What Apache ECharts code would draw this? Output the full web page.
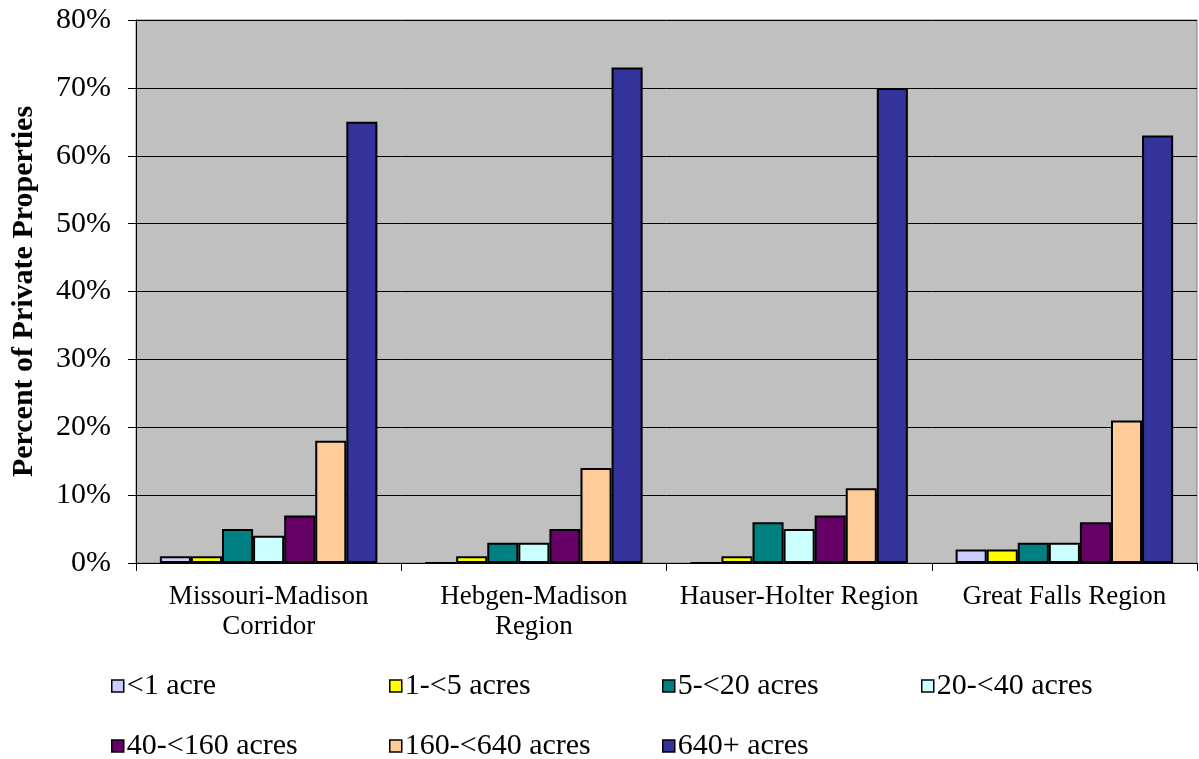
<!DOCTYPE html>
<html>
<head>
<meta charset="utf-8">
<script src="https://cdn.jsdelivr.net/npm/echarts@6/dist/echarts.min.js"></script>
<style>
  html, body { margin: 0; padding: 0; background: #fff; }
  #chart { width: 1199px; height: 759px; }
</style>
</head>
<body>
<div id="chart"></div>
<script>
// Regions along the river corridor
const regions = ['Missouri-Madison\nCorridor', 'Hebgen-Madison\nRegion', 'Hauser-Holter Region', 'Great Falls Region'];

// Parcel size classes
const sizeClasses = ['<1 acre', '1-<5 acres', '5-<20 acres', '20-<40 acres', '40-<160 acres', '160-<640 acres', '640+ acres'];

// Percent of private properties per size class, one value per region
const lessThan1 = [1, 0, 0, 2];
const from1to5 = [1, 1, 1, 2];
const from5to20 = [5, 3, 6, 3];
const from20to40 = [4, 3, 5, 3];
const from40to160 = [7, 5, 7, 6];
const from160to640 = [18, 14, 11, 21];
const over640 = [65, 73, 70, 63];

const yTicks = [0, 10, 20, 30, 40, 50, 60, 70, 80];

const seriesValues = [lessThan1, from1to5, from5to20, from20to40, from40to160, from160to640, over640];
const colors = ['#CCCCFF', '#FFFF00', '#008080', '#CCFFFF', '#660066', '#FFCC99', '#333399'];

const chart = echarts.init(document.getElementById('chart'), null, { renderer: 'canvas' });

// One legend entry per slot, laid out on a fixed four-column grid
const legendCols = [111, 389, 662, 921];
const legendRows = [671, 731];
const legends = sizeClasses.map((name, i) => ({
  data: [name],
  left: legendCols[i % 4],
  top: legendRows[Math.floor(i / 4)],
  itemWidth: 12,
  itemHeight: 12,
  itemGap: 0,
  padding: 0,
  selectedMode: false,
  icon: 'rect',
  itemStyle: { borderColor: '#000', borderWidth: 1.5 },
  textStyle: { fontFamily: 'Liberation Serif', fontSize: 30, color: '#000', padding: [0, 0, 0, -2] }
}));

chart.setOption({
  animation: false,
  backgroundColor: '#fff',
  legend: legends,
  grid: {
    left: 136, right: 2, top: 20, bottom: 196,
    show: true,
    backgroundColor: '#C0C0C0',
    borderColor: '#808080',
    borderWidth: 1
  },
  xAxis: {
    type: 'category',
    data: regions,
    axisLine: { show: true, lineStyle: { color: '#000', width: 1 } },
    axisTick: { show: true, alignWithLabel: false, length: 8, lineStyle: { color: '#000' } },
    axisLabel: {
      fontFamily: 'Liberation Serif', fontSize: 27, color: '#000',
      lineHeight: 30, margin: 19, interval: 0
    }
  },
  yAxis: {
    type: 'value',
    min: yTicks[0],
    max: yTicks[yTicks.length - 1],
    interval: 10,
    name: 'Percent of Private Properties',
    nameLocation: 'middle',
    nameGap: 97,
    nameTextStyle: { fontFamily: 'Liberation Serif', fontSize: 30, fontWeight: 'bold', color: '#000' },
    axisLine: { show: true, lineStyle: { color: '#000', width: 1 } },
    axisTick: { show: true, length: 8, lineStyle: { color: '#000' } },
    axisLabel: {
      fontFamily: 'Liberation Serif', fontSize: 30, color: '#000', margin: 25,
      formatter: v => v + '%'
    },
    splitLine: { show: true, lineStyle: { color: '#000', width: 1 } }
  },
  series: sizeClasses.map((name, i) => ({
    name,
    type: 'bar',
    data: seriesValues[i],
    barGap: '0%',
    barCategoryGap: '18%',
    itemStyle: { color: colors[i], borderColor: '#000', borderWidth: 2 }
  }))
});
</script>
</body>
</html>
